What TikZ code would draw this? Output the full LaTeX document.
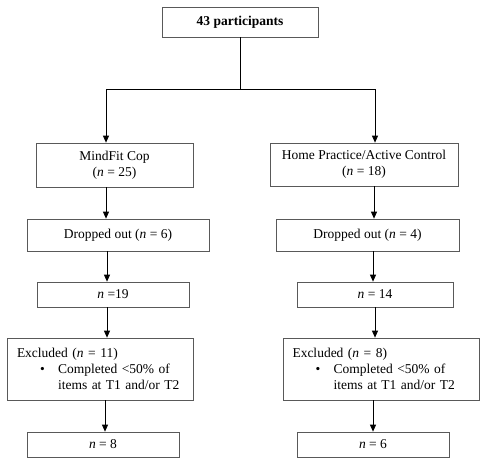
\documentclass[tikz,border=0pt]{standalone}
\usepackage{fontspec}
\setmainfont{Liberation Serif}
\usetikzlibrary{arrows.meta}
\begin{document}
\begin{tikzpicture}[x=1pt,y=-1pt,
  box/.style={draw=black!65, line width=0.7pt, rectangle, inner sep=0pt, align=center,
    font=\fontsize{13.5}{16}\selectfont},
  arr/.style={line width=0.8pt, -{Triangle[length=7pt,width=6pt]}},
  ln/.style={line width=0.8pt}]
\useasboundingbox (0,0) rectangle (486,466);
\node[box, minimum width=156pt, minimum height=30pt, font=\fontsize{13.5}{16}\selectfont\bfseries] (top) at (240,22) {43 participants};
\node[box, minimum width=157pt, minimum height=44pt] (mf) at (114.5,165) {MindFit Cop\\(\textit{n} = 25)};
\node[box, minimum width=188pt, minimum height=43pt] (hp) at (364,164.5) {Home Practice/Active Control\\(\textit{n} = 18)};
\node[box, minimum width=182pt, minimum height=32pt] (do1) at (118,235) {Dropped out (\textit{n} = 6)};
\node[box, minimum width=183pt, minimum height=32pt] (do2) at (367.5,235) {Dropped out (\textit{n} = 4)};
\node[box, minimum width=152pt, minimum height=25pt] (n1) at (113,294.5) {\textit{n} =19};
\node[box, minimum width=156pt, minimum height=25pt] (n2) at (375,294.5) {\textit{n} = 14};
\node[box, minimum height=62pt, text width=166pt, inner xsep=10pt, align=left] (ex1) at (100,369)
  {Excluded (\textit{n} = 11)\\\hspace*{23pt}•\hspace*{13.3pt}Completed <50\% of\\\hspace*{41pt}items at T1 and/or T2};
\node[box, minimum height=62pt, text width=177pt, inner xsep=9.5pt, align=left] (ex2) at (381,369)
  {Excluded (\textit{n} = 8)\\\hspace*{23pt}•\hspace*{13.3pt}Completed <50\% of\\\hspace*{41pt}items at T1 and/or T2};
\node[box, minimum width=152pt, minimum height=25pt] (f1) at (103,444.5) {\textit{n} = 8};
\node[box, minimum width=152pt, minimum height=25pt] (f2) at (373,444.5) {\textit{n} = 6};
\coordinate (split) at (240,89);
\draw[ln] (top.south) -- (split);
\draw[arr] (split) -| (mf.north -| 106,0);
\draw[arr] (split) -| (hp.north -| 375,0);
\draw[arr] (mf.south -| 106,0) -- (do1.north -| 106,0);
\draw[arr] (hp.south -| 374,0) -- (do2.north -| 374,0);
\draw[arr] (do1.south -| 107,0) -- (n1.north -| 107,0);
\draw[arr] (do2.south -| 373,0) -- (n2.north -| 373,0);
\draw[arr] (n1.south -| 107,0) -- (ex1.north -| 107,0);
\draw[arr] (n2.south -| 375,0) -- (ex2.north -| 375,0);
\draw[arr] (ex1.south -| 105,0) -- (f1.north -| 105,0);
\draw[arr] (ex2.south -| 373,0) -- (f2.north -| 373,0);
\end{tikzpicture}
\end{document}
